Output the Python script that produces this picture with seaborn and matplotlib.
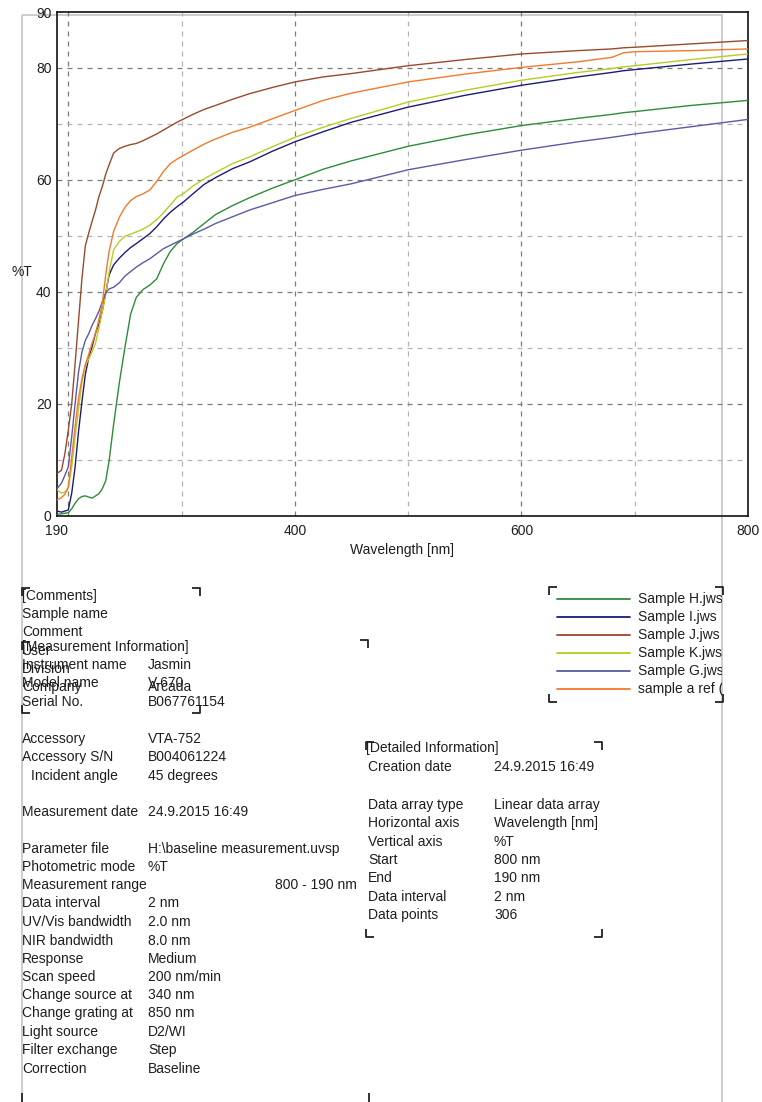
import numpy as np
import pandas as pd
import matplotlib
matplotlib.use("Agg")
import matplotlib.pyplot as plt
import seaborn as sns
from matplotlib.patches import Rectangle

# ---------------- data ----------------
wavelength = [190, 194, 197, 200, 203, 206, 209, 212, 215, 218,
              221, 224, 227, 230, 233, 236, 240, 245, 250, 255,
              260, 266, 272, 278, 284, 290, 296, 302, 310, 320,
              330, 345, 360, 380, 400, 425, 450, 500, 550, 600,
              650, 680, 690, 700, 750, 800]

sample_H = [0.2, 0.3, 0.4, 0.5, 1.2, 2.2, 3.0, 3.4, 3.5, 3.3,
            3.1, 3.5, 3.9, 4.8, 6.2, 9.8, 16.3, 23.7, 30.1, 36.0,
            39.0, 40.4, 41.2, 42.3, 45.0, 47.2, 48.6, 49.5, 50.6, 52.2,
            53.8, 55.4, 56.8, 58.5, 60.0, 61.9, 63.4, 66.0, 68.0, 69.7,
            71.0, 71.7, 72.0, 72.2, 73.3, 74.2]
sample_I = [0.8, 0.6, 0.8, 1.0, 4.0, 8.7, 15.0, 20.3, 25.2, 28.2,
            30.2, 32.6, 34.2, 36.6, 39.8, 43.0, 44.8, 46.0, 47.0, 47.9,
            48.6, 49.5, 50.4, 51.6, 53.0, 54.2, 55.2, 56.1, 57.5, 59.2,
            60.4, 62.0, 63.2, 65.1, 66.8, 68.6, 70.3, 73.0, 75.1, 76.9,
            78.4, 79.2, 79.5, 79.7, 80.7, 81.6]
sample_J = [7.5, 8.1, 11.1, 15.3, 20.0, 27.2, 34.8, 42.3, 48.2, 50.5,
            52.6, 54.6, 57.0, 58.8, 61.0, 62.7, 64.8, 65.6, 66.0, 66.3,
            66.5, 67.0, 67.6, 68.2, 68.9, 69.6, 70.3, 70.9, 71.7, 72.6,
            73.3, 74.4, 75.4, 76.5, 77.5, 78.4, 79.0, 80.4, 81.5, 82.5,
            83.1, 83.4, 83.6, 83.7, 84.3, 84.9]
sample_K = [4.6, 4.0, 4.2, 4.9, 8.7, 14.1, 19.0, 23.8, 26.8, 28.0,
            29.3, 30.8, 33.5, 36.5, 39.5, 43.5, 47.5, 49.0, 49.9, 50.3,
            50.7, 51.2, 51.9, 52.9, 54.1, 55.5, 56.9, 57.6, 58.9, 60.2,
            61.3, 62.9, 64.1, 65.9, 67.6, 69.4, 71.0, 73.9, 76.0, 77.8,
            79.2, 79.9, 80.2, 80.4, 81.5, 82.5]
sample_G = [4.8, 5.8, 7.2, 8.7, 14.1, 20.0, 25.6, 29.2, 31.3, 32.5,
            34.0, 35.2, 36.5, 38.2, 39.8, 40.5, 40.8, 41.6, 42.8, 43.6,
            44.4, 45.2, 45.9, 46.8, 47.7, 48.3, 48.9, 49.5, 50.3, 51.2,
            52.2, 53.4, 54.6, 55.9, 57.2, 58.3, 59.3, 61.8, 63.6, 65.3,
            66.8, 67.6, 67.9, 68.2, 69.5, 70.8]
sample_ref = [2.8, 3.2, 3.8, 5.1, 10.5, 15.9, 21.0, 24.4, 27.0, 28.8,
              30.8, 32.5, 35.0, 38.0, 43.0, 47.2, 50.8, 53.3, 55.1, 56.3,
              57.0, 57.5, 58.2, 59.7, 61.5, 62.9, 63.7, 64.4, 65.3, 66.4,
              67.3, 68.5, 69.4, 70.9, 72.4, 74.2, 75.5, 77.5, 78.9, 80.1,
              81.1, 81.9, 82.7, 82.9, 83.1, 83.4]

series_names = ["Sample H.jws", "Sample I.jws", "Sample J.jws",
                "Sample K.jws", "Sample G.jws", "sample a ref (1).jws"]
series_values = [sample_H, sample_I, sample_J, sample_K, sample_G, sample_ref]
series_colors = ["#2e8b3a", "#1c1c78", "#9a4a2c", "#b8cc22", "#5a5aa6", "#f27a2a"]

xtick_values = [190, 300, 400, 500, 600, 700, 800]
xtick_labels = ["190", "", "400", "", "600", "", "800"]
ytick_values = [0, 10, 20, 30, 40, 50, 60, 70, 80, 90]
ytick_labels = ["0", "", "20", "", "40", "", "60", "", "80", "90"]
grid_x_major = [200, 400, 600]
grid_x_minor = [300, 500, 700]
grid_y_major = [20, 40, 60, 80]
grid_y_minor = [10, 30, 50, 70]

x_label = "Wavelength [nm]"
y_label = "%T"

comments_text = ["[Comments]", "Sample name", "Comment", "User", "Division", "Company"]
comments_vals = ["", "", "", "", "", "Arcada"]

meas_labels = ["[Measurement Information]", "Instrument name", "Model name", "Serial No.",
               "Accessory", "Accessory S/N", "Incident angle", "Measurement date",
               "Parameter file", "Photometric mode", "Measurement range", "Data interval",
               "UV/Vis bandwidth", "NIR bandwidth", "Response", "Scan speed",
               "Change source at", "Change grating at", "Light source", "Filter exchange",
               "Correction"]
meas_values = ["", "Jasmin", "V-670", "B067761154",
               "VTA-752", "B004061224", "45 degrees", "24.9.2015 16:49",
               "H:\\baseline measurement.uvsp", "%T", "800 - 190 nm", "2 nm",
               "2.0 nm", "8.0 nm", "Medium", "200 nm/min",
               "340 nm", "850 nm", "D2/WI", "Step",
               "Baseline"]

detail_labels = ["[Detailed Information]", "Creation date", "Data array type", "Horizontal axis",
                 "Vertical axis", "Start", "End", "Data interval", "Data points"]
detail_values = ["", "24.9.2015 16:49", "Linear data array", "Wavelength [nm]",
                 "%T", "800 nm", "190 nm", "2 nm", "306"]

# ---------------- layout (pixel positions) ----------------
W, H = 762, 1102
comments_y = [596, 614, 632, 651, 669, 687]
meas_y = [647, 665, 683, 702, 739, 757, 776, 812, 849, 867, 885, 903, 922, 941,
          959, 977, 995, 1013, 1032, 1050, 1069]
detail_y = [748, 767, 805, 823, 842, 860, 878, 897, 915]
legend_y = [599, 617, 635, 653, 671, 689]

sns.set_theme(style="white")
plt.rcParams["font.family"] = ["Liberation Sans", "DejaVu Sans"]
TXT = "#1e1e1e"
FS = 10

fig = plt.figure(figsize=(W / 100, H / 100), dpi=100)
bg = fig.add_axes([0, 0, 1, 1], zorder=0)
bg.set_xlim(0, W)
bg.set_ylim(H, 0)
bg.axis("off")

# page frame
bg.add_patch(Rectangle((22, 15), 700, 1200, fill=False, edgecolor="#c4c4c4", lw=1.2))

ax = fig.add_axes([57 / W, 1 - 515.5 / H, 691 / W, 503.5 / H], zorder=2)
ax.set_facecolor("none")

for v in grid_x_major:
    ax.axvline(v, color="#7c7c7c", lw=0.9, ls=(0, (4, 4)), zorder=0)
for v in grid_x_minor:
    ax.axvline(v, color="#b4b4b4", lw=0.9, ls=(0, (4, 4)), zorder=0)
for v in grid_y_major:
    ax.axhline(v, color="#7c7c7c", lw=0.9, ls=(0, (4, 4)), zorder=0)
for v in grid_y_minor:
    ax.axhline(v, color="#b4b4b4", lw=0.9, ls=(0, (4, 4)), zorder=0)

rows = []
for name, vals in zip(series_names, series_values):
    for w, t in zip(wavelength, vals):
        rows.append({"wl": w, "T": t, "sample": name})
df = pd.DataFrame(rows)
palette = dict(zip(series_names, series_colors))
sns.lineplot(data=df, x="wl", y="T", hue="sample", palette=palette,
             estimator=None, legend=False, ax=ax, lw=1.0, zorder=3)

ax.set_xlim(190, 800)
ax.set_ylim(0, 90)
ax.set_xticks(xtick_values)
ax.set_xticklabels(xtick_labels)
ax.set_yticks(ytick_values)
ax.set_yticklabels(ytick_labels)
ax.tick_params(axis="both", direction="in", length=7, width=1, color="#222222",
               labelsize=FS, labelcolor=TXT)
ax.tick_params(axis="x", pad=6)
ax.tick_params(axis="y", pad=4)
ax.set_xlabel("")
ax.set_ylabel("")
for s in ax.spines.values():
    s.set_visible(True)
    s.set_color("#111111")
    s.set_linewidth(1.2)

bg.text(12, 272, y_label, ha="left", va="center", fontsize=FS, color=TXT)
bg.text(402, 550, x_label, ha="center", va="center", fontsize=FS, color=TXT)


def bracket(x, y, kind, size=8):
    # kind: 'tl', 'tr', 'bl', 'br'
    dx = size if kind in ("tl", "bl") else -size
    dy = size if kind in ("tl", "tr") else -size
    bg.plot([x + dx, x, x], [y, y, y + dy], color="#222222", lw=1.3,
            solid_capstyle="butt", clip_on=False)


def box(x0, y0, x1, y1):
    bracket(x0, y0, "tl")
    bracket(x1, y0, "tr")
    bracket(x0, y1, "bl")
    bracket(x1, y1, "br")


# text blocks
for lab, val, y in zip(comments_text, comments_vals, comments_y):
    bg.text(22, y, lab, ha="left", va="center", fontsize=FS, color=TXT)
    if val:
        bg.text(148, y, val, ha="left", va="center", fontsize=FS, color=TXT)

for lab, val, y in zip(meas_labels, meas_values, meas_y):
    lx = 31 if lab == "Incident angle" else 22
    bg.text(lx, y, lab, ha="left", va="center", fontsize=FS, color=TXT)
    if val:
        if lab == "Measurement range":
            bg.text(357, y, val, ha="right", va="center", fontsize=FS, color=TXT)
        else:
            bg.text(148, y, val, ha="left", va="center", fontsize=FS, color=TXT)

for i, (lab, val, y) in enumerate(zip(detail_labels, detail_values, detail_y)):
    bg.text(366 if i == 0 else 368, y, lab, ha="left", va="center", fontsize=FS, color=TXT)
    if val:
        bg.text(494, y, val, ha="left", va="center", fontsize=FS, color=TXT)

box(22, 588, 200, 713)
bracket(22, 642, "tl")
bracket(368, 640, "tr")
bracket(22, 1105, "bl", size=12)
bracket(369, 1105, "br", size=12)
box(366, 742, 602, 937)
box(549, 587, 723, 702)

# legend block (names clipped at the page frame, as in the reference)
lg = fig.add_axes([549 / W, 1 - 710 / H, 173 / W, 130 / H], zorder=1)
lg.set_xlim(549, 722)
lg.set_ylim(710, 580)
lg.axis("off")
for name, col, y in zip(series_names, series_colors, legend_y):
    lg.plot([557, 630], [y, y], color=col, lw=1.3)
    lg.text(638, y, name, ha="left", va="center", fontsize=FS, color=TXT, clip_on=True)

fig.savefig("out.png", dpi=100)
